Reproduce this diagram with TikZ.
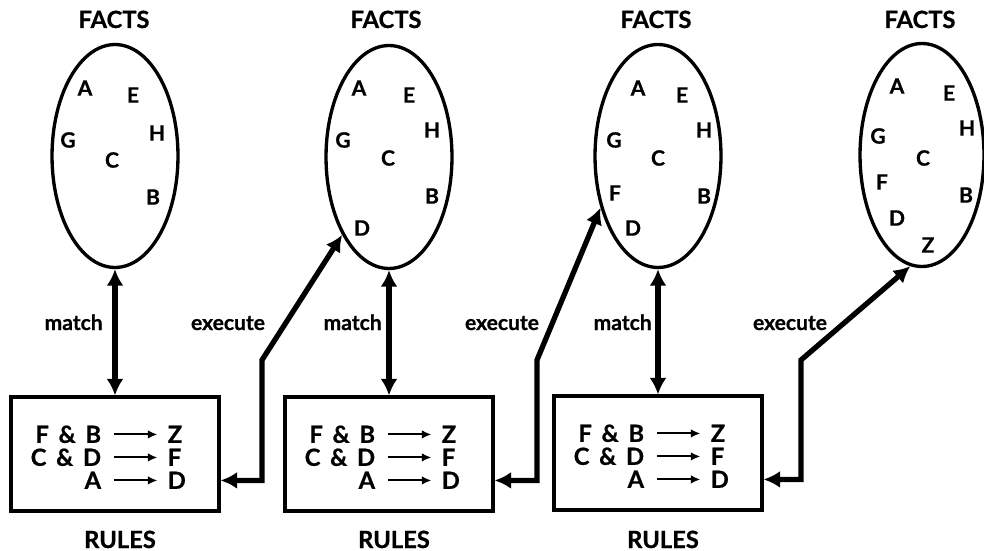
\documentclass[tikz,border=0pt]{standalone}
\usepackage{fontspec}
\setmainfont{Lato}[BoldFeatures={FakeBold=0.8}]
\usepackage{tikz}
\usetikzlibrary{positioning}
\usetikzlibrary{arrows.meta}
\usetikzlibrary{shapes.geometric}

\begin{document}
\begin{tikzpicture}[
        x=0.02cm, y=-0.02cm,
        facts/.style={draw, ellipse, line width=1.9pt, inner sep=0pt,
                      minimum width=2.52cm, minimum height=4.46cm},
        rules/.style={draw, line width=1.8pt, inner sep=0pt,
                      minimum width=4.16cm, minimum height=2.28cm},
        title/.style={font=\fontsize{13.5}{15}\selectfont\bfseries, inner sep=0pt},
        item/.style={font=\fontsize{12}{14}\selectfont\bfseries, inner sep=1pt},
        rule/.style={font=\fontsize{13.5}{15}\selectfont\bfseries, inner sep=0pt,
                     text height=9.6pt, text depth=0pt},
        lab/.style={font=\fontsize{12}{14}\selectfont\bfseries, inner sep=0pt},
        arrow/.style={line width=3pt, line join=miter,
                      {Latex[length=3.3mm,width=3.4mm]}-{Latex[length=3.3mm,width=3.4mm]}},
        thin/.style={line width=1.1pt, -{Latex[length=1.9mm,width=1.7mm]},
                     shorten <=0.25cm, shorten >=0.2cm}
    ]
        \useasboundingbox (0,0) rectangle (984,551);

        % fact sets
        \node[facts] (e1) at (115,156) {};
        \node[facts] (e2) at (389,157) {};
        \node[facts] (e3) at (658,156) {};
        \node[facts, minimum width=2.48cm] (e4) at (922,155) {};

        \node[title, anchor=base] (f1) at (114,28) {FACTS};
        \node[title, anchor=base] (f2) at (386,28) {FACTS};
        \node[title, anchor=base] (f3) at (656,28) {FACTS};
        \node[title, anchor=base] (f4) at (920,28) {FACTS};

        \node[item] (e1a) at (85,88) {A};
        \node[item] (e1e) at (133,95) {E};
        \node[item] (e1g) at (68,140) {G};
        \node[item] (e1h) at (157,133) {H};
        \node[item] (e1c) at (112,160) {C};
        \node[item] (e1b) at (153,197) {B};

        \node[item] (e2a) at (359,88) {A};
        \node[item] (e2e) at (409,95) {E};
        \node[item] (e2g) at (343,140) {G};
        \node[item] (e2h) at (432,130) {H};
        \node[item] (e2c) at (388,158) {C};
        \node[item] (e2b) at (432,196) {B};
        \node[item] (e2d) at (362,228) {D};

        \node[item] (e3a) at (638,88) {A};
        \node[item] (e3e) at (682,95) {E};
        \node[item] (e3g) at (614,140) {G};
        \node[item] (e3h) at (704,130) {H};
        \node[item] (e3c) at (658,158) {C};
        \node[item] (e3f) at (615,193) {F};
        \node[item] (e3b) at (704,196) {B};
        \node[item] (e3d) at (633,228) {D};

        \node[item] (e4a) at (897,86) {A};
        \node[item] (e4e) at (949,93) {E};
        \node[item] (e4g) at (878,136) {G};
        \node[item] (e4h) at (967,128) {H};
        \node[item] (e4c) at (923,158) {C};
        \node[item] (e4f) at (882,182) {F};
        \node[item] (e4b) at (966,195) {B};
        \node[item] (e4d) at (897,218) {D};
        \node[item] (e4z) at (928,245) {Z};

        % rule boxes
        \node[rules] (b1) at (115,454) {};
        \node[rules] (b2) at (389,454) {};
        \node[rules] (b3) at (658,453) {};

        \foreach \b in {b1,b2,b3} {
            \node[rule, anchor=east] (\b-l1) at ([shift={(92,39)}]\b.north west) {F \,\&\, B};
            \node[rule, anchor=east] (\b-l2) at ([shift={(92,62)}]\b.north west) {C \,\&\, D};
            \node[rule, anchor=east] (\b-l3) at ([shift={(92,85)}]\b.north west) {A};
            \node[rule, anchor=west] (\b-r1) at ([shift={(158,39)}]\b.north west) {Z};
            \node[rule, anchor=west] (\b-r2) at ([shift={(158,62)}]\b.north west) {F};
            \node[rule, anchor=west] (\b-r3) at ([shift={(158,85)}]\b.north west) {D};
            \draw[thin] (\b-l1.east) -- (\b-r1.west);
            \draw[thin] (\b-l2.east) -- (\b-r2.west);
            \draw[thin] (\b-l3.east -| \b-l1.east) -- (\b-r3.west);
            \node[title, anchor=base] (\b-t) at ([xshift=0.1cm]\b.south |- 0,548) {RULES};
        }

        % match
        \draw[arrow] (e1.south) -- (e1.south |- b1.north);
        \draw[arrow] (e2.south) -- (e2.south |- b2.north);
        \draw[arrow] (e3.south) -- (e3.south |- b3.north);
        \node[lab, anchor=base east] (m1) at (103,330) {match};
        \node[lab, anchor=base east] (m2) at (382,330) {match};
        \node[lab, anchor=base east] (m3) at (652,330) {match};

        % execute
        \coordinate (k1) at (262,360);
        \coordinate (k2) at (537,360);
        \coordinate (k3) at (801,360);
        \draw[arrow] (e2.239) -- (k1) -- (k1 |- b1-r3) -- (b1.east |- b1-r3);
        \draw[arrow] (e3.222) -- (k2) -- (k2 |- b2-r3) -- (b2.east |- b2-r3);
        \draw[arrow] (e4.264) -- (k3) -- (k3 |- b3-r3) -- (b3.east |- b3-r3);
        \node[lab, anchor=base] (x1) at (228,330) {execute};
        \node[lab, anchor=base] (x2) at (502,330) {execute};
        \node[lab, anchor=base] (x3) at (790,330) {execute};
    \end{tikzpicture}
\end{document}
